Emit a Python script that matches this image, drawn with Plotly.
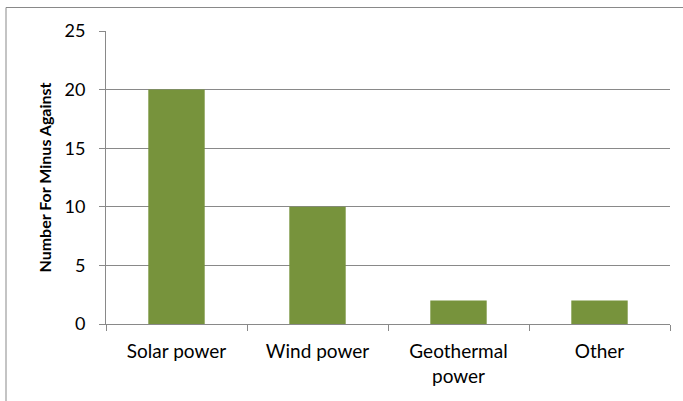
import plotly.graph_objects as go

categories = ["Solar power", "Wind power", "Geothermal<br>power", "Other"]
values = [20, 10, 2, 2]
y_ticks = [0, 5, 10, 15, 20, 25]

L, R, T, B = 106, 13, 31, 77
W, H = 683, 401
pw, ph = W - L - R, H - T - B

fig = go.Figure(go.Bar(x=categories, y=values, marker=dict(color="#77933C", line=dict(width=0)),
                       width=0.4))

fig.update_layout(
    width=W, height=H,
    margin=dict(l=L, r=R, t=T, b=B, pad=0, autoexpand=False),
    paper_bgcolor="white", plot_bgcolor="white",
    font=dict(family="Lato", size=19, color="#000000"),
    showlegend=False,
)
fig.update_xaxes(
    type="category", showline=True, linecolor="#898989", linewidth=1,
    ticks="outside", tickson="boundaries", ticklen=6, tickcolor="#898989",
    showgrid=False, range=[-0.5, 3.5], tickfont=dict(size=19), ticklabelstandoff=10,
)
fig.update_yaxes(
    range=[0, 25], tickvals=y_ticks, showline=True, linecolor="#898989", linewidth=1,
    ticks="outside", ticklen=6, tickcolor="#898989",
    showgrid=True, gridcolor="#898989", gridwidth=1, zeroline=False,
    tickfont=dict(size=18), ticklabelstandoff=10,
    title=dict(text="<b>Number For Minus Against</b>", font=dict(size=16), standoff=8),
)
fig.add_shape(type="rect", xref="paper", yref="paper",
              x0=(6 - L) / pw, x1=(W + 5 - L) / pw,
              y0=-(H + 5 - (H - B)) / ph, y1=((H - B) - 7.5) / ph,
              line=dict(color="#898989", width=1), fillcolor="rgba(0,0,0,0)", layer="below")

fig.write_html("out.html", config={"displayModeBar": False},
               post_script="document.body.style.margin='0';document.body.style.overflow='hidden';")
